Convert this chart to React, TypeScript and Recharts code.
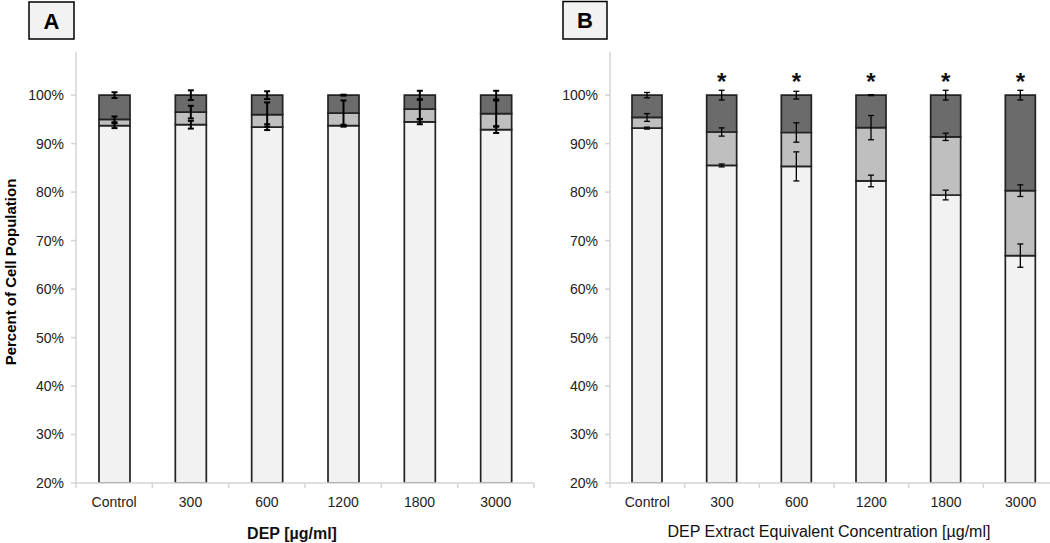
import React from 'react';
import { BarChart, Bar, XAxis, YAxis, ErrorBar, LabelList } from 'recharts';

const categories = ['Control', '300', '600', '1200', '1800', '3000'];
const yTicks = [20, 30, 40, 50, 60, 70, 80, 90, 100];

// Panel A (DEP)
const viableA = [93.7, 93.9, 93.4, 93.7, 94.5, 92.9];
const earlyA = [1.3, 2.6, 2.6, 2.6, 2.6, 3.3];
const lateA = [5.0, 3.5, 4.0, 3.7, 2.9, 3.8];
const viableErrA = [0.5, 0.8, 0.6, 0.2, 0.5, 0.7];
const earlyErrA = [0.6, 1.3, 2.5, 2.6, 2.0, 2.7];
const lateErrA = [0.6, 1.0, 0.8, 0.1, 0.9, 0.9];

// Panel B (DEP extract)
const viableB = [93.2, 85.5, 85.3, 82.3, 79.4, 66.9];
const earlyB = [2.2, 6.9, 7.0, 11.0, 12.0, 13.4];
const lateB = [4.6, 7.6, 7.7, 6.7, 8.6, 19.7];
const viableErrB = [0.2, 0.3, 3.0, 1.2, 1.0, 2.4];
const earlyErrB = [0.8, 0.85, 2.0, 2.5, 0.75, 1.2];
const lateErrB = [0.55, 1.0, 0.8, 0.1, 1.0, 1.0];
const significanceB = ['', '*', '*', '*', '*', '*'];

const COLOR_VIABLE = '#f2f2f2';
const COLOR_EARLY = '#bfbfbf';
const COLOR_LATE = '#6b6b6b';
const OUTLINE = '#222222';
const AXIS = '#d4d4d4';

function buildRows(v: number[], e: number[], l: number[], ve: number[], ee: number[], le: number[], sig?: string[]) {
  return categories.map((name, i) => ({
    name,
    viable: v[i],
    early: e[i],
    late: l[i],
    viableErr: ve[i],
    earlyErr: ee[i],
    lateErr: le[i],
    sig: sig ? sig[i] : '',
  }));
}

const dataA = buildRows(viableA, earlyA, lateA, viableErrA, earlyErrA, lateErrA);
const dataB = buildRows(viableB, earlyB, lateB, viableErrB, earlyErrB, lateErrB, significanceB);

const XTick = (props: any) => {
  const { x, y, payload, index, half } = props;
  const h = payload && payload.offset > 0 ? payload.offset : half;
  const last = index === categories.length - 1;
  return (
    <g>
      <line x1={x - h} y1={y} x2={x - h} y2={y + 5} stroke={AXIS} strokeWidth={1.5} />
      {last && <line x1={x + h} y1={y} x2={x + h} y2={y + 5} stroke={AXIS} strokeWidth={1.5} />}
      <text x={x} y={y + 24} textAnchor="middle" fontSize={14} fill="#222">
        {payload.value}
      </text>
    </g>
  );
};

const SigLabel = (p: any) => {
  if (!p.value) return null;
  return (
    <text x={p.x + p.width / 2} y={p.y - 5.5} textAnchor="middle" fontSize={24} fontWeight="bold" fill="#111">
      {p.value}
    </text>
  );
};

function Panel(props: {
  data: any[];
  left: number;
  width: number;
  yAxisWidth: number;
  marginRight: number;
  barSize: number;
  errStroke: number;
  half: number;
}) {
  const { data, left, width, yAxisWidth, marginRight, barSize, errStroke, half } = props;
  return (
    <div style={{ position: 'absolute', left, top: 0 }}>
      <BarChart width={width} height={543} data={data} margin={{ top: 52, right: marginRight, bottom: 0, left: 0 }}>
        <XAxis
          dataKey="name"
          height={60}
          interval={0}
          axisLine={{ stroke: AXIS, strokeWidth: 1.5 }}
          tickLine={false}
          tickSize={0}
          tickMargin={0}
          tick={<XTick half={half} />}
        />
        <YAxis
          type="number"
          width={yAxisWidth}
          domain={[20, 108.9]}
          ticks={yTicks}
          allowDataOverflow
          interval={0}
          tickFormatter={(v: number) => `${v}%`}
          axisLine={{ stroke: AXIS, strokeWidth: 1.5 }}
          tickLine={{ stroke: AXIS, strokeWidth: 1.5 }}
          tickSize={5}
          tickMargin={7}
          tick={{ fontSize: 14, fill: '#222' }}
        />
        <Bar dataKey="viable" stackId="s" fill={COLOR_VIABLE} stroke={OUTLINE} strokeWidth={1.7} barSize={barSize} isAnimationActive={false}>
          <ErrorBar dataKey="viableErr" width={3} stroke="#000" strokeWidth={errStroke} direction="y" />
        </Bar>
        <Bar dataKey="early" stackId="s" fill={COLOR_EARLY} stroke={OUTLINE} strokeWidth={1.7} barSize={barSize} isAnimationActive={false}>
          <ErrorBar dataKey="earlyErr" width={3} stroke="#000" strokeWidth={errStroke} direction="y" />
        </Bar>
        <Bar dataKey="late" stackId="s" fill={COLOR_LATE} stroke={OUTLINE} strokeWidth={1.7} barSize={barSize} isAnimationActive={false}>
          <ErrorBar dataKey="lateErr" width={3} stroke="#000" strokeWidth={errStroke} direction="y" />
          <LabelList dataKey="sig" content={<SigLabel />} />
        </Bar>
      </BarChart>
    </div>
  );
}

export default function App() {
  return (
    <div
      style={{
        position: 'fixed',
        left: 0,
        top: 0,
        width: 1050,
        height: 543,
        overflow: 'hidden',
        background: '#fff',
        fontFamily: '"Liberation Sans", Arial, sans-serif',
      }}
    >
      <Panel data={dataA} left={0} width={540} yAxisWidth={76} marginRight={6} barSize={31} errStroke={2} half={38.2} />
      <Panel data={dataB} left={540} width={540} yAxisWidth={70} marginRight={22} barSize={30} errStroke={1.3} half={37.3} />
      <svg width={1050} height={543} style={{ position: 'absolute', left: 0, top: 0, pointerEvents: 'none' }}>
        <rect x={29} y={2} width={45} height={37} fill="#f2f2f2" stroke="#000" strokeWidth={1.5} />
        <text x={51.5} y={29} textAnchor="middle" fontSize={22} fontWeight="bold" fill="#000">A</text>
        <rect x={563} y={1.5} width={44} height={37.5} fill="#f2f2f2" stroke="#000" strokeWidth={1.5} />
        <text x={585} y={28} textAnchor="middle" fontSize={22} fontWeight="bold" fill="#000">B</text>
        <text x={15.5} y={272} transform="rotate(-90 15.5 272)" textAnchor="middle" fontSize={15} fontWeight="bold" fill="#000">
          Percent of Cell Population
        </text>
        <text x={292} y={539} textAnchor="middle" fontSize={16} fontWeight="bold" fill="#111">DEP [µg/ml]</text>
        <text x={829} y={537} textAnchor="middle" fontSize={16} fill="#111">DEP Extract Equivalent Concentration [µg/ml]</text>
      </svg>
    </div>
  );
}
